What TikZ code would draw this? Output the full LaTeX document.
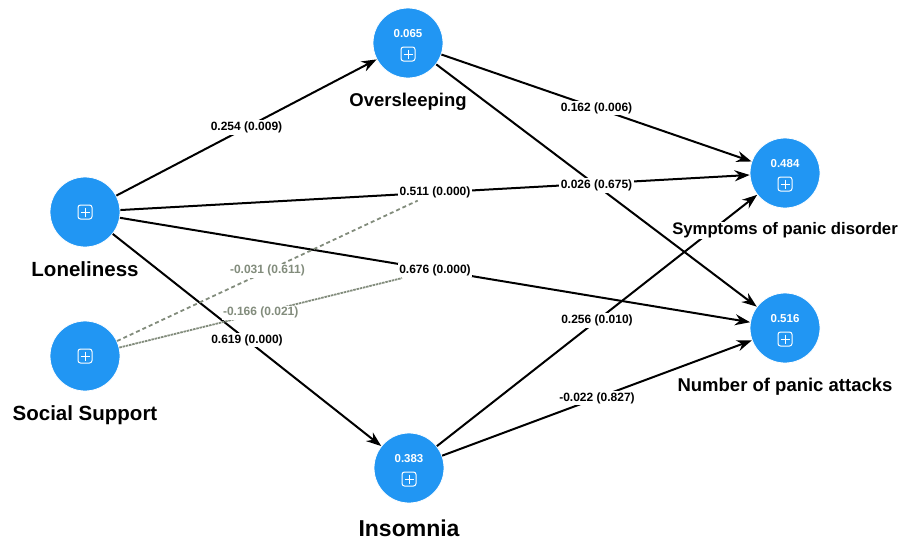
\documentclass[tikz,border=0pt]{standalone}
\usepackage{fontspec}
\setmainfont{Liberation Sans}
\usetikzlibrary{arrows.meta, positioning, calc}
\definecolor{lvblue}{RGB}{33,150,243}
\definecolor{modgray}{RGB}{130,140,124}

\tikzstyle{lv} = [circle, 
fill=lvblue, 
draw=white, 
line width=0.8pt,
minimum size=70pt, 
inner sep=0pt]
\tikzstyle{lvname} = [font=\bfseries\fontsize{18.5}{20}\selectfont, 
fill=white, 
inner sep=1pt]
\tikzstyle{rsq} = [text=white, 
font=\bfseries\fontsize{11.5}{13}\selectfont, 
inner sep=0pt]
\tikzstyle{coef} = [font=\bfseries\fontsize{12}{13}\selectfont, 
fill=white, 
inner sep=1.5pt]
\tikzstyle{modcoef} = [coef, text=modgray]
\tikzstyle{effect} = [line width=2pt, -{Stealth[length=15pt, width=11pt]}]
\tikzstyle{moderation} = [line width=1.8pt, draw=modgray, dash pattern=on 4pt off 3pt]

% rounded box with a plus, #2 = vertical offset
\newcommand{\lvicon}[2]{%
  \draw[white, line width=1pt, rounded corners=2.5pt] ($(#1)+(-7,#2-7)$) rectangle ($(#1)+(7,#2+7)$);
  \draw[white, line width=1pt] ($(#1)+(-4.5,#2)$) -- ($(#1)+(4.5,#2)$) ($(#1)+(0,#2-4.5)$) -- ($(#1)+(0,#2+4.5)$);}

\begin{document}
\begin{tikzpicture}[x=1pt, y=-1pt, node distance=13pt]
  \useasboundingbox (0,0) rectangle (901,544);
  \node (lon) [lv] at (85,212) {};
  \node (soc) [lv] at (85,356) {};
  \node (ovs) [lv] at (408,43) {};
  \node (ins) [lv] at (409,468) {};
  \node (spd) [lv] at (785,173) {};
  \node (npa) [lv] at (785,328) {};

  % R-squared values
  \node (ovsR) [rsq] at ($(ovs)+(0,-9)$) {0.065};
  \node (insR) [rsq] at ($(ins)+(0,-9)$) {0.383};
  \node (spdR) [rsq] at ($(spd)+(0,-9)$) {0.484};
  \node (npaR) [rsq] at ($(npa)+(0,-9)$) {0.516};
  \lvicon{lon}{0}
  \lvicon{soc}{0}
  \lvicon{ovs}{11}
  \lvicon{ins}{11}
  \lvicon{spd}{11}
  \lvicon{npa}{11}

  \draw [effect] (lon) -- node[coef] {0.254 (0.009)} (ovs);
  \draw [effect] (lon) -- node[coef] (lsCoef) {0.511 (0.000)} (spd);
  \draw [effect] (lon) -- node[coef] (lnCoef) {0.676 (0.000)} (npa);
  \draw [effect] (lon) -- node[coef] {0.619 (0.000)} (ins);
  \draw [effect] (ovs) -- node[coef] {0.162 (0.006)} (spd);
  \draw [effect] (ovs) -- node[coef] {0.026 (0.675)} (npa);
  \draw [effect] (ins) -- node[coef] {0.256 (0.010)} (spd);
  \draw [effect] (ins) -- node[coef] {-0.022 (0.827)} (npa);
  % moderating effects
  \draw [moderation] (soc) -- node[modcoef] {-0.031 (0.611)} (lsCoef);
  \draw [moderation, dash pattern=on 2.5pt off 0.8pt] (soc) -- node[modcoef] {-0.166 (0.021)} (lnCoef);

  \node (lonT) [lvname, font=\bfseries\fontsize{20.5}{22}\selectfont, below=of lon] {Loneliness};
  \node (socT) [lvname, font=\bfseries\fontsize{20.5}{22}\selectfont, below=of soc] {Social Support};
  \node (ovsT) [lvname, below=of ovs] {Oversleeping};
  \node (insT) [lvname, font=\bfseries\fontsize{23}{25}\selectfont, below=15pt of ins] {Insomnia};
  \node (spdT) [lvname, font=\bfseries\fontsize{16.7}{18}\selectfont, below=of spd] {Symptoms of panic disorder};
  \node (npaT) [lvname, below=of npa] {Number of panic attacks};
\end{tikzpicture}
\end{document}
